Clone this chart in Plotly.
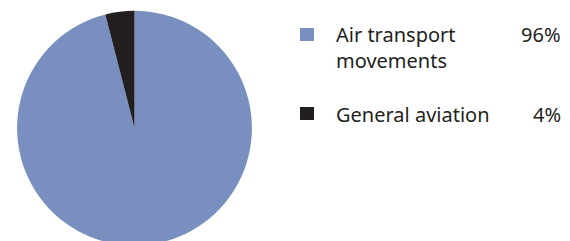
import plotly.graph_objects as go

labels = ["Air transport movements", "General aviation"]
values = [96, 4]
colors = ["#788FC0", "#231F20"]
legend_text = ["Air transport<br>movements", "General aviation"]
legend_pct = ["96%", "4%"]
legend_colors = ["#788FC0", "#231F20"]

OFF = 8  # default page body margin
W, H = 562, 250

def px(x):
    return (x - OFF) / W

def py(y):
    return 1 - (y - OFF) / H

fig = go.Figure(go.Pie(
    labels=labels, values=values, sort=False, direction="clockwise",
    rotation=0, marker=dict(colors=colors, line=dict(width=0)),
    textinfo="none", hoverinfo="label+percent",
    domain=dict(x=[px(17), px(252)], y=[py(245.5), py(10.7)]),
))

text_color = "#231F20"
font = dict(family="Noto Sans", size=20, color=text_color)

# legend rows: square top y, text top y
rows = [(28, 18.7), (107, 98.7)]
shapes = []
annotations = []
for i, (sq_y, t_y) in enumerate(rows):
    shapes.append(dict(type="rect", xref="paper", yref="paper",
                       x0=px(300), x1=px(314), y0=py(sq_y + 13), y1=py(sq_y),
                       fillcolor=legend_colors[i], line=dict(width=0)))
    annotations.append(dict(text=legend_text[i], xref="paper", yref="paper",
                            x=px(334), y=py(t_y), xanchor="left", yanchor="top",
                            align="left", showarrow=False, font=font))
    annotations.append(dict(text=legend_pct[i], xref="paper", yref="paper",
                            x=px(563), y=py(t_y), xanchor="right", yanchor="top",
                            align="right", showarrow=False, font=font))

fig.update_layout(width=W, height=H, margin=dict(l=0, r=0, t=0, b=0),
                  showlegend=False, paper_bgcolor="white", plot_bgcolor="white",
                  shapes=shapes, annotations=annotations)

fig.write_html("out.html")
